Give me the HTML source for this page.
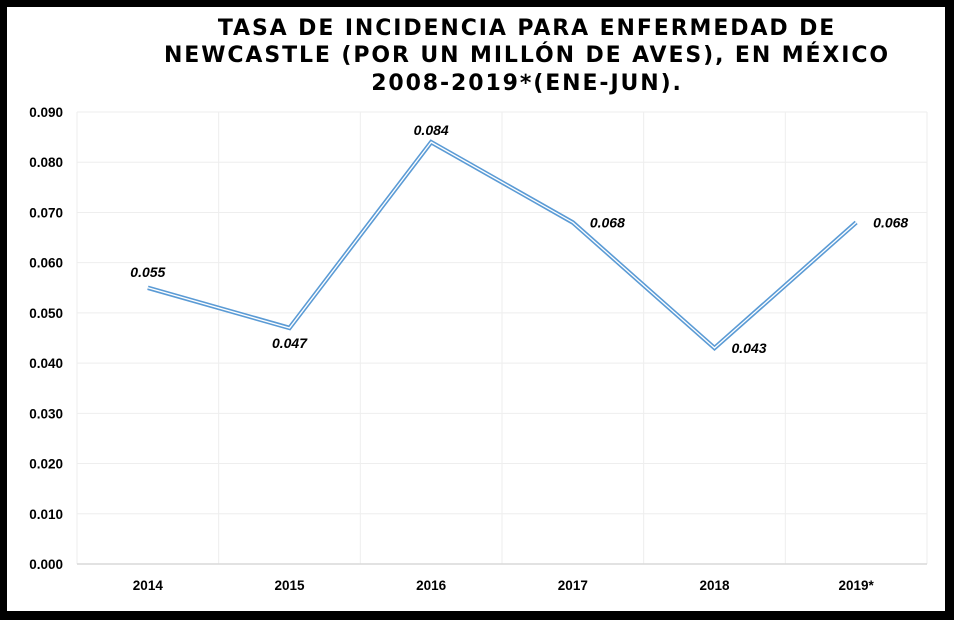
<!DOCTYPE html>
<html><head><meta charset="utf-8"><style>
html,body{margin:0;padding:0;background:#000;}
#wrap{position:relative;width:954px;height:620px;background:#000;overflow:hidden;}
#card{position:absolute;left:7px;top:7px;width:938px;height:604px;background:#fff;}
svg{position:absolute;left:0;top:0;}
text{font-family:"Liberation Sans","DejaVu Sans",sans-serif;}
</style></head><body>
<div id="wrap">
<div id="card"></div>
<svg id="chart" width="954" height="620">
<g font-weight="bold" font-size="22" text-anchor="middle" letter-spacing="1.9" fill="#000">
<text x="527" y="35" style="font-family:'DejaVu Sans','Liberation Sans',sans-serif">TASA DE INCIDENCIA PARA ENFERMEDAD DE</text>
<text x="527" y="62" style="font-family:'DejaVu Sans','Liberation Sans',sans-serif">NEWCASTLE (POR UN MILLÓN DE AVES), EN MÉXICO</text>
<text x="527" y="90" style="font-family:'DejaVu Sans','Liberation Sans',sans-serif">2008-2019*(ENE-JUN).</text>
</g>
</svg>
</div>
<script>
const categories=["2014","2015","2016","2017","2018","2019*"];
const values=[0.055,0.047,0.084,0.068,0.043,0.068];
const valueLabels=["0.055","0.047","0.084","0.068","0.043","0.068"];
const yTicks=[0,0.01,0.02,0.03,0.04,0.05,0.06,0.07,0.08,0.09];
const yTickLabels=["0.000","0.010","0.020","0.030","0.040","0.050","0.060","0.070","0.080","0.090"];
const NS="http://www.w3.org/2000/svg";
const svg=document.getElementById('chart');
const L=77,R=927,T=112,B=564,yMax=0.09;
const bw=(R-L)/categories.length;
const x=i=>L+bw*(i+0.5);
const y=v=>B-(v/yMax)*(B-T);
function mk(tag,attrs){const e=document.createElementNS(NS,tag);for(const k in attrs)e.setAttribute(k,attrs[k]);svg.appendChild(e);return e;}
yTicks.forEach((t,i)=>{
  if(i>0){const g=mk('line',{x1:L,x2:R,y1:y(t),y2:y(t),stroke:'#eeeeee','stroke-width':1});
  
  }
  const tx=mk('text',{x:63,y:y(t)+5,'text-anchor':'end','font-size':13.5,'font-weight':'bold',fill:'#000'});
  tx.textContent=yTickLabels[i];
  
  
});
for(let i=0;i<=categories.length;i++){
  const g=mk('line',{x1:L+bw*i,x2:L+bw*i,y1:T,y2:B,stroke:'#eeeeee','stroke-width':1});
  
  
}
const ax=mk('line',{x1:L,x2:R,y1:B,y2:B,stroke:'#d9d9d9','stroke-width':1.5});


categories.forEach((c,i)=>{
  const t=mk('text',{x:x(i),y:590,'text-anchor':'middle','font-size':13.5,'font-weight':'bold',fill:'#000'});
  t.textContent=c;
  
  
});
const pts=values.map((v,i)=>x(i)+','+y(v)).join(' ');
const l1=mk('polyline',{points:pts,fill:'none',stroke:'#5b9bd5','stroke-width':4.5,'stroke-linejoin':'miter'});


const l2=mk('polyline',{points:pts,fill:'none',stroke:'#ffffff','stroke-width':1.3,'stroke-linejoin':'miter'});


const pos=['above','below','above2','right','right','right'];
values.forEach((v,i)=>{
  let lx=x(i),ly=y(v),anchor='middle';
  if(pos[i]==='above'){ly-=11;}
  else if(pos[i]==='above2'){ly-=7;}
  else if(pos[i]==='below'){ly+=20;}
  else {lx+=17;ly+=5;anchor='start';}
  const t=mk('text',{x:lx,y:ly,'text-anchor':anchor,'font-size':14,'font-weight':'bold','font-style':'italic',fill:'#000'});
  t.textContent=valueLabels[i];
  
  
});
</script>
</body></html>
